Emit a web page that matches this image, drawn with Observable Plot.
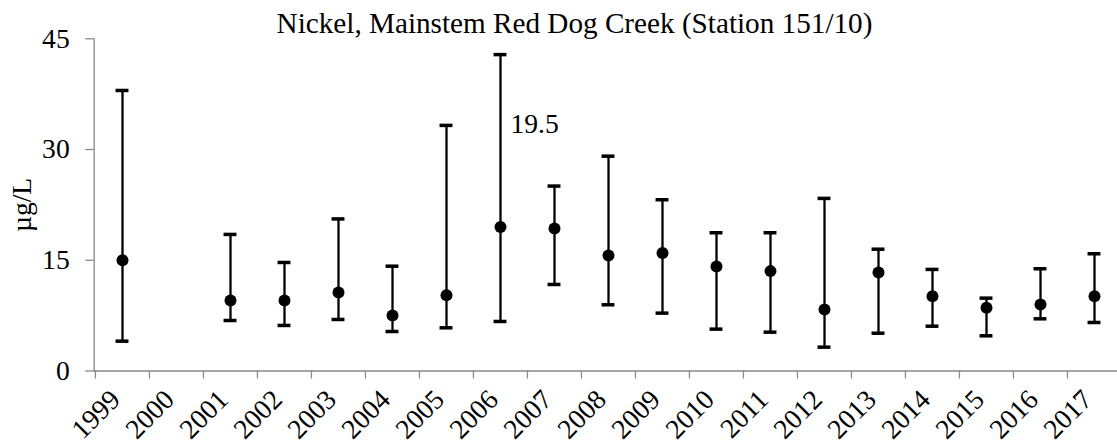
<!DOCTYPE html>
<html>
<head>
<meta charset="utf-8">
<script src="https://cdn.jsdelivr.net/npm/d3@7"></script>
<script src="https://cdn.jsdelivr.net/npm/@observablehq/plot@0.6"></script>
<style>
  body { margin: 0; background: #fff; }
  #wrap { position: relative; width: 1117px; height: 446px; overflow: hidden; background: #fff; }
  #title { position: absolute; top: 9.4px; left: 0; width: 1149px; text-align: center;
           font-family: "Liberation Serif", serif; font-size: 29.2px; line-height: 28px; color: #000; white-space: nowrap; }
  #chart { position: absolute; top: 0; left: 0; }
  #chart svg text { font-family: "Liberation Serif", serif !important; }
</style>
</head>
<body>
<div id="wrap"><div id="chart"></div><div id="title">Nickel, Mainstem Red Dog Creek (Station 151/10)</div></div>
<script>
const years = ["1999","2000","2001","2002","2003","2004","2005","2006","2007","2008","2009","2010","2011","2012","2013","2014","2015","2016","2017"];
const means = [15.0, null, 9.56, 9.56, 10.64, 7.52, 10.27, 19.5, 19.31, 15.65, 15.97, 14.16, 13.53, 8.34, 13.35, 10.14, 8.57, 9.01, 10.14];
const lows  = [4.04, null, 6.84, 6.17, 6.98, 5.35, 5.85, 6.71, 11.72, 8.97, 7.84, 5.67, 5.26, 3.23, 5.12, 6.07, 4.77, 7.07, 6.57];
const highs = [38.0, null, 18.5, 14.7, 20.6, 14.2, 33.27, 42.86, 25.05, 29.1, 23.2, 18.73, 18.73, 23.38, 16.5, 13.76, 9.87, 13.85, 15.88];
const yTicks = [0, 15, 30, 45];
const annotYears = ["2006"];
const annotTexts = ["19.5"];
const annotY = [33.4];

const data = years.map((year, i) => ({year, mean: means[i], lo: lows[i], hi: highs[i]})).filter(d => d.mean != null);
const annots = annotYears.map((year, i) => ({year, text: annotTexts[i], y: annotY[i]}));

const W = 1117, H = 446;
const x0 = 93.7, x1 = 1121.4;
const yTop = 38.3, yBot = 370.5;
const bw = (x1 - x0) / years.length;
const axisGray = "#898989";
const fs = 27.6;

const chart = Plot.plot({
  width: W, height: H,
  marginLeft: x0, marginRight: 0, marginTop: yTop, marginBottom: H - yBot,
  style: {fontFamily: "'Liberation Serif', serif", fontSize: fs + "px", color: "#000", background: "transparent"},
  x: {type: "band", domain: years, range: [x0, x1], padding: 0},
  y: {domain: [0, 45], ticks: yTicks},
  marks: [
    Plot.frame({anchor: "left", stroke: axisGray, strokeWidth: 1.3}),
    Plot.frame({anchor: "bottom", stroke: axisGray, strokeWidth: 1.3}),
    Plot.axisY(yTicks, {tickSize: 8.5, tickPadding: 16, stroke: axisGray, strokeWidth: 1.3, fontSize: fs,
      label: "µg/L", labelAnchor: "center", labelArrow: "none", labelOffset: 83}),
    Plot.axisX({tickSize: 8, dx: -bw / 2, tickFormat: () => "", stroke: axisGray, strokeWidth: 1.3, label: null}),
    Plot.axisX({tickSize: 0, tickRotate: -45, tickPadding: 24, dx: -7, fontSize: fs, label: null}),
    Plot.ruleX(data, {x: "year", y1: "lo", y2: "hi", stroke: "#000", strokeWidth: 2.3}),
    Plot.tickY(data, {x: "year", y: "hi", stroke: "#000", strokeWidth: 3.5, insetLeft: (bw - 13) / 2, insetRight: (bw - 13) / 2}),
    Plot.tickY(data, {x: "year", y: "lo", stroke: "#000", strokeWidth: 3.5, insetLeft: (bw - 13) / 2, insetRight: (bw - 13) / 2}),
    Plot.dot(data, {x: "year", y: "mean", r: 6, fill: "#000", stroke: "none"}),
    Plot.text(annots, {x: "year", y: "y", text: "text", dx: 10, textAnchor: "start", fontSize: fs, fill: "#000"})
  ]
});
document.getElementById("chart").appendChild(chart);
</script>
</body>
</html>
